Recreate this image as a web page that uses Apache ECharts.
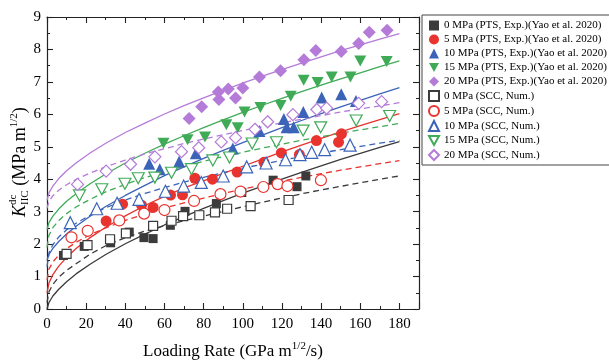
<!DOCTYPE html>
<html>
<head>
<meta charset="utf-8">
<script src="https://cdn.jsdelivr.net/npm/echarts@6/dist/echarts.min.js"></script>
<style>
  html, body { margin: 0; padding: 0; background: #fff; }
  #chart { width: 609px; height: 361px; }
</style>
</head>
<body>
<div id="chart"></div>
<script>
// Loading-rate grid used by the fitted curves (GPa m^1/2/s)
const fitRates = [0, 1, 3, 6, 10, 15, 22, 30, 40, 50, 60, 70, 80, 90, 100, 110, 120, 130, 140, 150, 160, 170, 180];

// Fitted curves, K_IIC^dc (MPa m^1/2): solid = PTS experiments, dashed = SCC numerical
const fitPts0  = [0.00, 0.20, 0.40, 0.61, 0.84, 1.09, 1.38, 1.68, 2.01, 2.31, 2.59, 2.85, 3.10, 3.34, 3.57, 3.79, 4.00, 4.21, 4.41, 4.61, 4.80, 4.98, 5.16];
const fitScc0  = [0.20, 0.53, 0.76, 0.98, 1.19, 1.40, 1.69, 1.95, 2.20, 2.40, 2.57, 2.72, 2.86, 3.01, 3.15, 3.29, 3.42, 3.55, 3.67, 3.78, 3.89, 4.00, 4.10];
const fitPts5  = [0.50, 0.80, 1.06, 1.32, 1.59, 1.87, 2.20, 2.52, 2.87, 3.19, 3.47, 3.73, 3.95, 4.18, 4.40, 4.62, 4.84, 5.05, 5.26, 5.46, 5.65, 5.84, 6.02];
const fitScc5  = [0.90, 1.23, 1.45, 1.66, 1.86, 2.06, 2.29, 2.50, 2.73, 2.93, 3.11, 3.27, 3.42, 3.56, 3.70, 3.82, 3.94, 4.06, 4.17, 4.28, 4.38, 4.48, 4.57];
const fitPts10 = [1.50, 1.68, 1.87, 2.08, 2.31, 2.56, 2.86, 3.16, 3.50, 3.81, 4.11, 4.38, 4.64, 4.89, 5.13, 5.36, 5.59, 5.81, 6.02, 6.23, 6.43, 6.63, 6.82];
const fitScc10 = [1.30, 1.73, 1.98, 2.22, 2.44, 2.65, 2.89, 3.12, 3.36, 3.56, 3.74, 3.91, 4.06, 4.20, 4.34, 4.46, 4.58, 4.70, 4.81, 4.91, 5.01, 5.11, 5.20];
const fitPts15 = [2.45, 2.66, 2.86, 3.08, 3.32, 3.56, 3.86, 4.16, 4.50, 4.80, 5.08, 5.34, 5.59, 5.83, 6.06, 6.28, 6.49, 6.70, 6.90, 7.09, 7.28, 7.47, 7.65];
const fitScc15 = [1.90, 2.27, 2.51, 2.73, 2.94, 3.15, 3.38, 3.61, 3.84, 4.05, 4.23, 4.40, 4.55, 4.70, 4.83, 4.96, 5.08, 5.20, 5.31, 5.42, 5.52, 5.62, 5.72];
const fitPts20 = [3.35, 3.58, 3.79, 4.02, 4.26, 4.51, 4.81, 5.11, 5.44, 5.73, 6.01, 6.27, 6.51, 6.74, 6.96, 7.18, 7.38, 7.58, 7.77, 7.96, 8.14, 8.32, 8.49];
const fitScc20 = [3.10, 3.32, 3.49, 3.66, 3.83, 4.00, 4.19, 4.38, 4.59, 4.78, 4.94, 5.10, 5.24, 5.37, 5.50, 5.62, 5.74, 5.85, 5.96, 6.07, 6.17, 6.26, 6.36];

// PTS experimental points [loading rate, K]
const ptsExp0 = [[8.4,1.65],[19,1.93],[32.5,2.04],[42,2.37],[49.5,2.2],[54.2,2.17],[63,2.58],[70.5,3.01],[86.5,3.25],[99.5,3.59],[115.5,3.97],[127.7,3.77],[132.2,4.1]];
const ptsExp5 = [[30.2,2.71],[38.6,3.23],[48.3,3.2],[54.2,3.13],[63.1,3.51],[69.2,3.52],[75.5,4.03],[84.5,4.0],[97.1,4.22],[110.8,4.52],[119.7,4.81],[128.9,4.76],[137.6,5.19],[148.9,5.14],[150.4,5.4]];
const ptsExp10 = [[52.2,4.48],[57.6,4.31],[67.5,4.55],[76,4.8],[94.9,4.95],[108.5,5.49],[121,5.86],[122.4,5.6],[126,5.6],[130.9,6.07],[140.3,6.52],[150.3,6.62],[157.8,6.41]];
const ptsExp15 = [[59.5,5.11],[71.8,5.22],[80.7,5.3],[91.6,5.68],[97.4,5.59],[100.9,6.07],[109,6.21],[119.3,6.27],[124.5,6.56],[131.1,7.05],[138.2,6.98],[145.4,7.15],[155,7.15],[160,7.64],[173.5,7.63]];
const ptsExp20 = [[72.6,5.87],[79,6.23],[87.5,6.69],[87.8,6.46],[92.6,6.78],[96.3,6.5],[100,6.81],[108.5,7.15],[119.3,7.34],[131.2,7.68],[137.3,7.97],[150.3,7.94],[159.2,8.18],[164.6,8.53],[173.7,8.59]];

// SCC numerical points [loading rate, K]
const sccNum0 = [[10,1.7],[20.7,1.97],[32.2,2.15],[40.3,2.33],[54.2,2.56],[63.6,2.72],[69.5,2.86],[77.8,2.89],[85.8,2.98],[92,3.09],[104,3.17],[123.4,3.36]];
const sccNum5 = [[12.5,2.21],[20.8,2.41],[36.9,2.73],[49.6,2.94],[60,3.05],[75.1,3.33],[88.6,3.54],[98.8,3.62],[110.5,3.76],[117.8,3.85],[122.8,3.79],[139.9,3.97]];
const sccNum10 = [[11.9,2.66],[25.4,3.09],[35.8,3.26],[47,3.38],[60.5,3.63],[69.8,3.79],[78.8,3.9],[90,4.1],[102,4.38],[111.9,4.5],[121.8,4.6],[129.2,4.76],[135.2,4.83],[141.8,4.91],[154.8,5.05]];
const sccNum15 = [[16.6,3.5],[28,3.69],[39.8,3.86],[46.6,4.03],[55.1,4.05],[63.6,4.2],[73.8,4.31],[84.7,4.58],[93.2,4.67],[104.8,5.1],[117.2,5.14],[130.8,5.5],[139.8,5.6],[157.9,5.81],[175,5.95]];
const sccNum20 = [[15.6,3.84],[30.2,4.25],[42.7,4.46],[55.1,4.69],[68.7,4.85],[77.5,4.97],[89,5.15],[96.3,5.28],[106.2,5.54],[112.7,5.77],[125.6,5.99],[137.8,6.15],[142.8,6.19],[159.2,6.34],[170.9,6.39]];

const pressures = ['0', '5', '10', '15', '20'];
const xTicks = [0, 20, 40, 60, 80, 100, 120, 140, 160, 180];
const yTicks = [0, 1, 2, 3, 4, 5, 6, 7, 8, 9];

const colors = ['#3b3b3b', '#e8332f', '#3b64b8', '#3fab57', '#b57bd8'];
const ptsFits = [fitPts0, fitPts5, fitPts10, fitPts15, fitPts20];
const sccFits = [fitScc0, fitScc5, fitScc10, fitScc15, fitScc20];
const ptsData = [ptsExp0, ptsExp5, ptsExp10, ptsExp15, ptsExp20];
const sccData = [sccNum0, sccNum5, sccNum10, sccNum15, sccNum20];
// downward-pointing triangle as a path so the legend shows it the same way
const DOWN_TRIANGLE = 'path://M0,0 L10,0 L5,9 Z';
const symbols = [
  { s: 'rect', size: 9 },
  { s: 'circle', size: 11 },
  { s: 'triangle', size: 12 },
  { s: DOWN_TRIANGLE, size: [12, 11] },
  { s: 'diamond', size: 13 }
];
const openSizes = [9, 11, 12, [12, 11], 12];

const FONT = '"Liberation Serif", "Times New Roman", serif';

const series = [];
const legendNames = [];

// fitted curves first so markers sit on top
pressures.forEach((p, i) => {
  series.push({
    type: 'line', silent: true, smooth: false, showSymbol: false, z: 1,
    data: fitRates.map((x, k) => [x, ptsFits[i][k]]),
    lineStyle: { color: colors[i], width: 1.3 }
  });
  series.push({
    type: 'line', silent: true, smooth: false, showSymbol: false, z: 1,
    data: fitRates.map((x, k) => [x, sccFits[i][k]]),
    lineStyle: { color: colors[i], width: 1.3, type: [6, 4] }
  });
});

pressures.forEach((p, i) => {
  const name = p + ' MPa (PTS, Exp.)(Yao et al. 2020)';
  legendNames.push(name);
  series.push({
    type: 'scatter', name, z: 3,
    symbol: symbols[i].s, symbolSize: symbols[i].size,
    data: ptsData[i],
    itemStyle: { color: colors[i], opacity: 1 }
  });
});
pressures.forEach((p, i) => {
  const name = p + ' MPa (SCC, Num.)';
  legendNames.push(name);
  series.push({
    type: 'scatter', name, z: 4,
    symbol: symbols[i].s, symbolSize: openSizes[i],
    data: sccData[i],
    itemStyle: { color: '#fff', borderColor: colors[i], borderWidth: 1.2, opacity: 1 }
  });
});

const axisCommon = {
  axisLine: { show: true, onZero: false, lineStyle: { color: '#222', width: 1.2 } },
  axisTick: { show: true, inside: true, length: 6, lineStyle: { color: '#222', width: 1.1 } },
  minorTick: { show: true, splitNumber: 2, length: 3, lineStyle: { color: '#222', width: 1 } },
  splitLine: { show: false }
};

// text runs with sub/superscripts, laid out with measured widths
const ctx = document.createElement('canvas').getContext('2d');
function run(segs) {
  let x = 0;
  const els = [];
  segs.forEach(s => {
    const font = (s.italic ? 'italic ' : '') + s.size + 'px ' + FONT;
    ctx.font = font;
    const w = ctx.measureText(s.t).width;
    els.push({ type: 'text', x: x + (s.dx || 0), y: s.dy || 0,
      style: { text: s.t, font, fill: '#000', textVerticalAlign: 'middle' } });
    if (!s.stack) x += w;
  });
  return { els, width: x };
}

const yTitle = run([
  { t: 'K', size: 18, italic: true },
  { t: 'dc', size: 11, dy: -7, stack: true },
  { t: 'IIC', size: 11, dy: 5 },
  { t: ' (MPa m', size: 18 },
  { t: '1/2', size: 11, dy: -6 },
  { t: ')', size: 18 }
]);
const xTitle = run([
  { t: 'Loading Rate (GPa m', size: 17 },
  { t: '1/2', size: 11, dy: -6 },
  { t: '/s)', size: 17 }
]);

const chart = echarts.init(document.getElementById('chart'), null, { renderer: 'canvas' });
chart.setOption({
  backgroundColor: '#fff',
  animation: false,
  grid: { left: 47, right: 190, top: 17, bottom: 52 },
  xAxis: [
    Object.assign({
      type: 'value', min: xTicks[0], max: 190, interval: xTicks[1] - xTicks[0], position: 'bottom',
      axisLabel: { color: '#000', fontFamily: FONT, fontSize: 15, margin: 8, showMaxLabel: false,
        formatter: v => (xTicks.indexOf(v) >= 0 ? String(v) : '') }
    }, axisCommon),
    Object.assign({
      type: 'value', min: xTicks[0], max: 190, interval: xTicks[1] - xTicks[0], position: 'top',
      axisLabel: { show: false }
    }, axisCommon)
  ],
  yAxis: [
    Object.assign({
      type: 'value', min: yTicks[0], max: yTicks[yTicks.length - 1], interval: 1, position: 'left',
      axisLabel: { color: '#000', fontFamily: FONT, fontSize: 15, margin: 6 }
    }, axisCommon),
    Object.assign({
      type: 'value', min: yTicks[0], max: yTicks[yTicks.length - 1], interval: 1, position: 'right',
      axisLabel: { show: false }
    }, axisCommon)
  ],
  legend: {
    data: legendNames, orient: 'vertical', left: 422, top: 15,
    itemWidth: 10, itemHeight: 10, itemGap: 3, padding: [5, 4, 4, 6],
    borderColor: '#444', borderWidth: 1, borderRadius: 0,
    textStyle: { fontFamily: FONT, fontSize: 11, color: '#000' },
    selectedMode: false
  },
  graphic: [
    { type: 'group', x: 20, y: 217, rotation: Math.PI / 2, children: yTitle.els },
    { type: 'group', x: 233 - xTitle.width / 2, y: 352, children: xTitle.els }
  ],
  series
});
</script>
</body>
</html>
